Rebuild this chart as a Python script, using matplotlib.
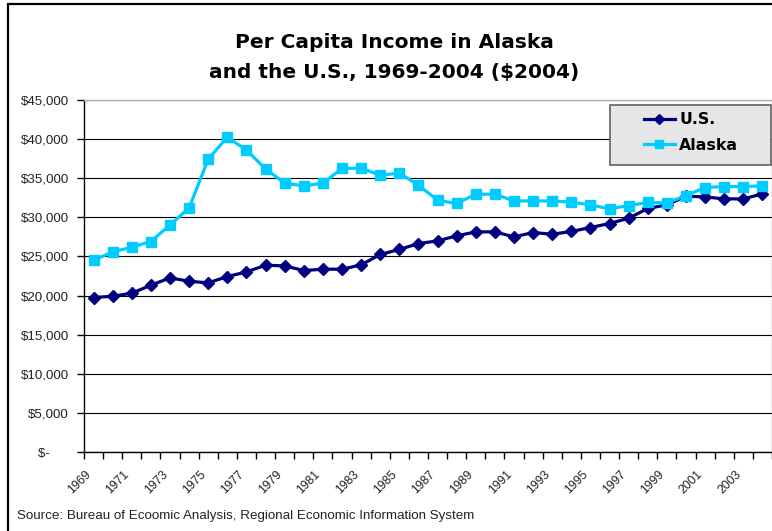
import matplotlib
matplotlib.use("Agg")
import matplotlib.pyplot as plt
import matplotlib.ticker as mticker
from matplotlib.patches import Rectangle
import numpy as np

years = list(range(1969, 2005))
us = [19750, 19910, 20300, 21320, 22260, 21830, 21620, 22430, 23020, 23880,
      23790, 23200, 23370, 23370, 23920, 25250, 25890, 26650, 26990, 27630,
      28140, 28140, 27500, 28060, 27840, 28190, 28700, 29210, 29890, 31130,
      31600, 32700, 32610, 32360, 32360, 33000]
alaska = [24520, 25580, 26180, 26910, 29030, 31210, 37440, 40250, 38590, 36200,
          34370, 34020, 34370, 36250, 36290, 35390, 35650, 34110, 32190, 31770,
          32960, 32960, 32100, 32100, 32100, 31940, 31600, 31080, 31510, 31900,
          31850, 32790, 33810, 33940, 33940, 34020]
series_names = ["U.S.", "Alaska"]
title = "Per Capita Income in Alaska\nand the U.S., 1969-2004 ($2004)"
source = "Source: Bureau of Ecoomic Analysis, Regional Economic Information System"

plt.rcParams['font.family'] = ['Liberation Sans', 'DejaVu Sans']

W, H = 772, 531
fig = plt.figure(figsize=(W / 100, H / 100), dpi=100)
fig.patch.set_facecolor('white')

# outer frame (cropped at right/bottom)
fig.add_artist(Rectangle((8 / W, -0.05), 1.2, 1 - 4 / H + 0.05, transform=fig.transFigure,
                         fill=False, edgecolor='black', linewidth=1.6))

left, right, top, bottom = 84, 772, 100, 452
ax = fig.add_axes([left / W, 1 - bottom / H, (right - left) / W, (bottom - top) / H])

x = np.arange(len(years))
ax.plot(x, us, color='#000080', linewidth=2.3, marker='D', markersize=6.5,
        label=series_names[0], zorder=3)
ax.plot(x, alaska, color='#00CCFF', linewidth=2.3, marker='s', markersize=7.5,
        label=series_names[1], zorder=3)

ax.set_xlim(-0.5, len(years) - 0.5)
ax.set_ylim(0, 45000)
ax.set_yticks(np.arange(0, 45001, 5000))

def yfmt(v, pos):
    if v == 0:
        return '$-\u2007\u2007 '
    return '${:,.0f}'.format(v)
ax.yaxis.set_major_formatter(mticker.FuncFormatter(yfmt))
ax.tick_params(axis='y', direction='out', length=5, width=1, pad=6,
               labelsize=9.6, colors='black')
for lbl in ax.get_yticklabels():
    lbl.set_color('#222222')

ax.set_xticks(np.arange(-0.5, len(years), 1))
ax.set_xticklabels([])
ax.tick_params(axis='x', which='major', direction='out', length=5, width=1)
ax.set_xticks(x[::2], minor=True)
ax.set_xticklabels([str(y) for y in years[::2]], minor=True, rotation=45,
                   ha='right', va='top', fontsize=8.7, color='#222222')
ax.tick_params(axis='x', which='minor', length=0, pad=12)

ax.yaxis.grid(True, color='black', linewidth=0.8)
ax.set_axisbelow(True)
for s in ['left', 'bottom']:
    ax.spines[s].set_color('black')
    ax.spines[s].set_linewidth(1)
for s in ['top', 'right']:
    ax.spines[s].set_color('#b0b0b0')
    ax.spines[s].set_linewidth(1)

# legend box
fig.add_artist(Rectangle((610 / W, 1 - 165 / H), 161 / W, 60 / H, transform=fig.transFigure,
                         facecolor='#e6e6e6', edgecolor='#606060', linewidth=1.2, zorder=5))
leg = ax.legend(loc='upper left', bbox_to_anchor=(644 / W, 1 - 112 / H),
                bbox_transform=fig.transFigure, frameon=False,
                prop={'family': 'DejaVu Sans', 'weight': 'bold', 'size': 11.3},
                handlelength=1.95, markerscale=0.8,
                borderpad=0, labelspacing=0.68, handletextpad=0.3,
                borderaxespad=0)
leg.set_zorder(6)
leg.remove()
fig.add_artist(leg)

fig.text(394 / W, 1 - 57.5 / H, title, ha='center', va='center', fontsize=14.5,
         fontweight='bold', family='DejaVu Sans', linespacing=1.68)
fig.text(17 / W, 1 - 516 / H, source, ha='left', va='center', fontsize=9.6,
         color='#222222')

fig.savefig('out.png', dpi=100)
